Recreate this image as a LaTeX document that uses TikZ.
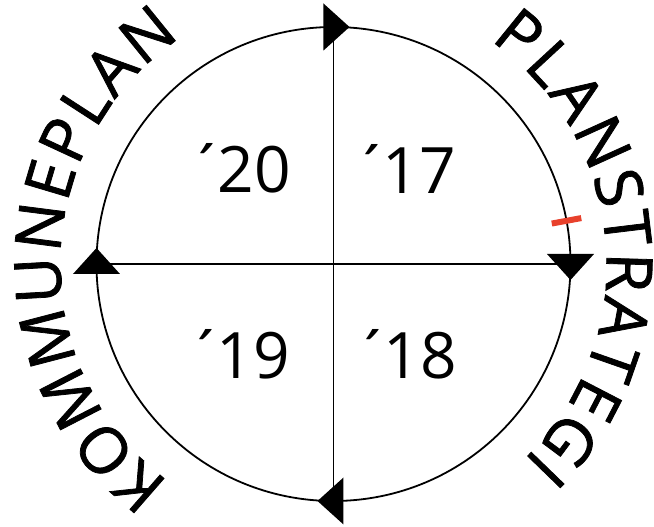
\documentclass[tikz,border=0pt]{standalone}
\usepackage{fontspec}
\setmainfont{Open Sans}
\newfontfamily\arcfamily{Open Sans}[FakeBold=1.2]
\usetikzlibrary{decorations.text}
\newcommand{\arcfont}{\arcfamily\fontsize{64}{70}\selectfont}
\newcommand{\yr}[1]{´\kern-8pt#1}
\begin{document}
\begin{tikzpicture}[x=1pt, y=1pt, line width=1.8pt,
    year/.style={font=\fontsize{64}{70}\selectfont},
    arctext/.style={decorate, decoration={text along path, text={|\arcfont|#1}, text align={fit to path}}}]
  \useasboundingbox (-333.5,-263) rectangle (320.5,264);

  % circle and cross
  \coordinate (C) at (0,0);
  \coordinate (N) at (90:237);
  \coordinate (E) at (0:237);
  \coordinate (S) at (270:237);
  \coordinate (W) at (180:237);
  \draw (C) circle (237);
  \draw[line width=1.3pt] (N) -- (S);
  \draw[line width=1.3pt] (W) -- (E);

  % arrow heads, clockwise
  \fill ([shift={(-10,23.5)}]N) -- ([shift={(16,0)}]N) -- ([shift={(-10,-23.5)}]N) -- cycle;
  \fill ([shift={(-23.5,10)}]E) -- ([shift={(0,-16)}]E) -- ([shift={(23.5,10)}]E) -- cycle;
  \fill ([shift={(10,23.5)}]S) -- ([shift={(-16,0)}]S) -- ([shift={(10,-23.5)}]S) -- cycle;
  \fill ([shift={(-23.5,-10)}]W) -- ([shift={(0,16)}]W) -- ([shift={(23.5,-10)}]W) -- cycle;

  % red mark
  \coordinate (r1) at (10.5:222);
  \coordinate (r2) at (10.5:252);
  \draw[line width=6pt, color={rgb,255:red,232;green,65;blue,44}] (r1) -- (r2);

  % years
  \node[year] (y20) at (-94,95.5) {\yr{20}};
  \node[year] (y17) at (71.5,95.5) {\yr{17}};
  \node[year] (y19) at (-95,-90) {\yr{19}};
  \node[year] (y18) at (72,-90) {\yr{18}};

  % text round the circle
  \path[arctext=KOMMUNEPLAN] (233:273) arc[start angle=233, end angle=124, radius=273];
  \path[arctext=PLANSTRATEGI] (55:273) arc[start angle=55, end angle=-46, radius=273];
\end{tikzpicture}
\end{document}
